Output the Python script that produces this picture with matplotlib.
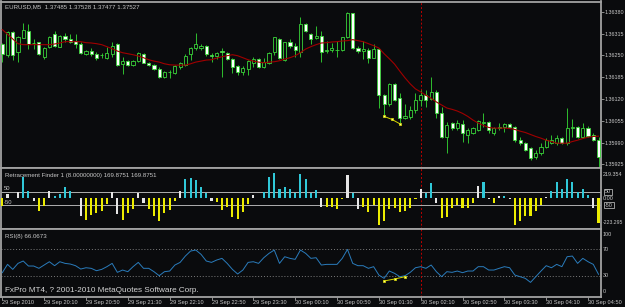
import numpy as np
import matplotlib
matplotlib.use('Agg')
import matplotlib.pyplot as plt

W, H = 625, 307
BG = '#0a0b0d'
FRAME = '#a2a2a2'
TXT = '#c8c8c8'
FONT = 'Liberation Sans'

# EURUSD M5, 29 Sep 19:30 -> 30 Sep 05:00 (one entry per bar)
opens = [1.36285, 1.36252, 1.36321, 1.36261, 1.36303, 1.36324, 1.36288, 1.36291, 1.36246, 1.36276,
         1.36315, 1.36276, 1.36309, 1.36300, 1.36294, 1.36285, 1.36255, 1.36264, 1.36255, 1.36252,
         1.36243, 1.36255, 1.36285, 1.36225, 1.36234, 1.36222, 1.36234, 1.36255, 1.36228, 1.36222,
         1.36210, 1.36186, 1.36201, 1.36198, 1.36216, 1.36222, 1.36255, 1.36273, 1.36273, 1.36279,
         1.36250, 1.36249, 1.36262, 1.36258, 1.36240, 1.36219, 1.36201, 1.36210, 1.36228, 1.36240,
         1.36216, 1.36228, 1.36261, 1.36300, 1.36237, 1.36291, 1.36279, 1.36261, 1.36345, 1.36315,
         1.36303, 1.36309, 1.36264, 1.36267, 1.36266, 1.36267, 1.36306, 1.36375, 1.36273, 1.36264,
         1.36267, 1.36243, 1.36270, 1.36132, 1.36105, 1.36165, 1.36123, 1.36063, 1.36066, 1.36087,
         1.36117, 1.36132, 1.36120, 1.36141, 1.36078, 1.36006, 1.36048, 1.36033, 1.36045, 1.36012,
         1.36018, 1.36027, 1.36048, 1.36051, 1.36018, 1.36033, 1.36036, 1.36045, 1.36036, 1.35997,
         1.35988, 1.35973, 1.35946, 1.35958, 1.35976, 1.35988, 1.35988, 1.36003, 1.35988, 1.36033,
         1.36036, 1.36006, 1.36033, 1.36012, 1.35997]
highs = [1.36288, 1.36324, 1.36324, 1.36309, 1.36348, 1.36345, 1.36300, 1.36291, 1.36276, 1.36309,
         1.36324, 1.36312, 1.36318, 1.36315, 1.36315, 1.36291, 1.36267, 1.36273, 1.36261, 1.36258,
         1.36276, 1.36291, 1.36288, 1.36246, 1.36237, 1.36237, 1.36261, 1.36258, 1.36231, 1.36225,
         1.36214, 1.36204, 1.36207, 1.36222, 1.36231, 1.36255, 1.36276, 1.36318, 1.36285, 1.36282,
         1.36258, 1.36261, 1.36273, 1.36261, 1.36243, 1.36222, 1.36219, 1.36237, 1.36246, 1.36243,
         1.36243, 1.36261, 1.36306, 1.36303, 1.36291, 1.36300, 1.36288, 1.36366, 1.36348, 1.36318,
         1.36339, 1.36324, 1.36294, 1.36288, 1.36294, 1.36306, 1.36378, 1.36375, 1.36279, 1.36294,
         1.36273, 1.36285, 1.36273, 1.36135, 1.36168, 1.36168, 1.36138, 1.36105, 1.36099, 1.36138,
         1.36147, 1.36147, 1.36186, 1.36147, 1.36096, 1.36051, 1.36051, 1.36057, 1.36057, 1.36033,
         1.36036, 1.36057, 1.36078, 1.36054, 1.36036, 1.36048, 1.36048, 1.36048, 1.36039, 1.36006,
         1.35991, 1.35976, 1.35967, 1.35988, 1.36003, 1.36012, 1.36012, 1.36006, 1.36093, 1.36060,
         1.36039, 1.36048, 1.36039, 1.36018, 1.36006]
lows = [1.36231, 1.36246, 1.36237, 1.36231, 1.36303, 1.36270, 1.36270, 1.36252, 1.36240, 1.36273,
        1.36276, 1.36276, 1.36291, 1.36288, 1.36273, 1.36255, 1.36252, 1.36249, 1.36237, 1.36243,
        1.36240, 1.36246, 1.36219, 1.36195, 1.36219, 1.36219, 1.36231, 1.36228, 1.36219, 1.36207,
        1.36183, 1.36183, 1.36183, 1.36195, 1.36210, 1.36219, 1.36237, 1.36267, 1.36267, 1.36249,
        1.36231, 1.36240, 1.36186, 1.36237, 1.36198, 1.36192, 1.36192, 1.36192, 1.36216, 1.36213,
        1.36213, 1.36225, 1.36252, 1.36240, 1.36234, 1.36273, 1.36246, 1.36246, 1.36321, 1.36285,
        1.36300, 1.36231, 1.36258, 1.36261, 1.36246, 1.36264, 1.36303, 1.36270, 1.36258, 1.36240,
        1.36228, 1.36243, 1.36093, 1.36072, 1.36099, 1.36114, 1.36048, 1.36060, 1.36060, 1.36078,
        1.36099, 1.36096, 1.36117, 1.36063, 1.36004, 1.35958, 1.36027, 1.36027, 1.35991, 1.35988,
        1.36015, 1.36024, 1.36036, 1.36018, 1.36012, 1.36027, 1.36021, 1.36033, 1.35991, 1.35982,
        1.35964, 1.35937, 1.35940, 1.35952, 1.35973, 1.35985, 1.35982, 1.35985, 1.35982, 1.36006,
        1.36003, 1.36004, 1.36006, 1.35994, 1.35916]
closes = [1.36255, 1.36321, 1.36252, 1.36306, 1.36327, 1.36285, 1.36286, 1.36255, 1.36273, 1.36306,
          1.36279, 1.36309, 1.36300, 1.36291, 1.36285, 1.36258, 1.36264, 1.36255, 1.36243, 1.36250,
          1.36258, 1.36279, 1.36222, 1.36234, 1.36222, 1.36234, 1.36258, 1.36228, 1.36222, 1.36210,
          1.36186, 1.36201, 1.36199, 1.36219, 1.36228, 1.36249, 1.36273, 1.36285, 1.36279, 1.36255,
          1.36249, 1.36258, 1.36261, 1.36240, 1.36216, 1.36201, 1.36213, 1.36234, 1.36240, 1.36216,
          1.36231, 1.36258, 1.36306, 1.36243, 1.36291, 1.36279, 1.36267, 1.36345, 1.36324, 1.36300,
          1.36309, 1.36261, 1.36267, 1.36273, 1.36267, 1.36306, 1.36375, 1.36273, 1.36264, 1.36270,
          1.36243, 1.36270, 1.36132, 1.36105, 1.36165, 1.36117, 1.36063, 1.36069, 1.36087, 1.36117,
          1.36132, 1.36117, 1.36141, 1.36078, 1.36006, 1.36042, 1.36033, 1.36048, 1.36018, 1.36027,
          1.36033, 1.36054, 1.36050, 1.36027, 1.36033, 1.36036, 1.36045, 1.36036, 1.35997, 1.35988,
          1.35967, 1.35943, 1.35958, 1.35976, 1.35997, 1.35997, 1.36003, 1.35988, 1.36033, 1.36036,
          1.36006, 1.36033, 1.36009, 1.35997, 1.35946]
ma_vals = [1.36327, 1.36313, 1.36299, 1.36285, 1.36282, 1.36282, 1.36282, 1.36282, 1.36282, 1.36282,
           1.36284, 1.36287, 1.36291, 1.36291, 1.36291, 1.36291, 1.36288, 1.36287, 1.36285, 1.36282,
           1.36276, 1.36270, 1.36263, 1.36258, 1.36255, 1.36252, 1.36248, 1.36243, 1.36237, 1.36233,
           1.36230, 1.36225, 1.36222, 1.36221, 1.36221, 1.36221, 1.36225, 1.36230, 1.36233, 1.36236,
           1.36237, 1.36242, 1.36246, 1.36249, 1.36252, 1.36249, 1.36243, 1.36237, 1.36233, 1.36230,
           1.36228, 1.36230, 1.36231, 1.36234, 1.36239, 1.36243, 1.36249, 1.36258, 1.36269, 1.36276,
           1.36282, 1.36287, 1.36288, 1.36290, 1.36291, 1.36293, 1.36294, 1.36297, 1.36294, 1.36291,
           1.36285, 1.36279, 1.36272, 1.36255, 1.36240, 1.36224, 1.36203, 1.36183, 1.36165, 1.36150,
           1.36141, 1.36131, 1.36122, 1.36111, 1.36102, 1.36093, 1.36089, 1.36084, 1.36077, 1.36068,
           1.36057, 1.36048, 1.36041, 1.36035, 1.36033, 1.36033, 1.36033, 1.36032, 1.36029, 1.36024,
           1.36020, 1.36014, 1.36008, 1.36003, 1.35997, 1.35993, 1.35988, 1.35988, 1.35988, 1.35993,
           1.35997, 1.36002, 1.36006, 1.36008, 1.36009]

# Retracement Finder histogram and its colour state (c = cyan, y = yellow, w = white)
rf_vals = [-65, 31, 0, 47, 170, 58, -18, -97, -65, 58,
           21, 31, 86, 58, 5, -144, -170, -131, -118, -97,
           -47, 47, -123, -176, -118, -84, 45, -34, -84, -139,
           -183, -118, -92, -21, 60, 152, 165, 149, 92, 45,
           -18, -26, -92, -66, -152, -165, -110, -47, 26, 5,
           52, 170, 204, 73, 92, 73, 39, 191, 152, 39,
           66, -66, -73, -66, -84, -8, 183, 45, -86, -66,
           -105, -52, -210, -183, -86, -79, -105, -100, -79, -5,
           71, 39, 123, -34, -157, -149, -79, -52, -79, -79,
           -39, 97, 126, -5, -34, 18, 18, -8, -210, -183,
           -139, -144, -100, -52, 13, 58, 126, 71, 157, 131,
           47, 73, 26, -79, -196]
rf_state = list('ywwwccwyyw' 'cccccwyyyy' 'ywwyyywwyy' 'yyyywccccc'
                'wyyyyyyywc' 'cccccccccc' 'cwyyyywcwy' 'yyyyyyyyyy'
                'wccwyyyyyy' 'ywcwywcwyy' 'yyyywccccc' 'cccwy')

rsi_vals = [34.6, 47.2, 39.6, 48.7, 52.3, 44.7, 44.7, 41.2, 46.2, 51.2,
            45.2, 51.2, 48.7, 47.7, 45.2, 40.1, 42.1, 41.2, 37.6, 39.6,
            43.7, 48.7, 35.1, 38.6, 36.1, 43.7, 50.2, 41.2, 41.2, 36.1,
            30.0, 36.1, 37.1, 46.2, 50.2, 59.8, 67.4, 68.9, 62.4, 52.3,
            50.2, 53.8, 56.3, 48.7, 39.6, 32.6, 38.6, 50.2, 51.2, 48.7,
            57.3, 63.9, 68.9, 48.7, 58.8, 56.3, 54.8, 68.9, 63.9, 56.3,
            57.3, 46.2, 47.2, 47.2, 47.2, 56.3, 69.9, 48.7, 45.2, 45.2,
            41.2, 43.7, 31.0, 26.0, 37.1, 33.6, 28.5, 30.0, 35.1, 42.1,
            43.7, 41.2, 46.2, 36.1, 28.5, 36.1, 35.1, 37.1, 34.6, 37.1,
            37.1, 43.7, 43.7, 38.6, 38.6, 41.2, 43.7, 42.1, 31.0, 28.5,
            26.0, 19.9, 28.5, 37.1, 45.2, 42.1, 47.2, 43.7, 58.8, 59.8,
            48.7, 56.3, 51.2, 47.2, 32.1]

# yellow pattern marks (bar position, value)
mark_bars = [73, 74.5, 76]
mark_prices = [1.36068, 1.36059, 1.36046]
rsi_mark_bars = [73, 75, 77]
rsi_mark_vals = [22.0, 25.0, 28.5]
vline_bar = 80

price_ticks = [1.36380, 1.36315, 1.36250, 1.36185, 1.36120, 1.36055, 1.35990, 1.35925]
time_ticks = [0, 8, 16, 24, 32, 40, 48, 56, 64, 72, 80, 88, 96, 104, 112]
time_labels = ['29 Sep 2010', '29 Sep 20:10', '29 Sep 20:50', '29 Sep 21:30', '29 Sep 22:10',
               '29 Sep 22:50', '29 Sep 23:30', '30 Sep 00:10', '30 Sep 00:50', '30 Sep 01:30',
               '30 Sep 02:10', '30 Sep 02:50', '30 Sep 03:30', '30 Sep 04:10', '30 Sep 04:50']

bars = np.arange(len(opens))
o, h, l, c = map(np.array, (opens, highs, lows, closes))

fig = plt.figure(figsize=(W / 100, H / 100), dpi=100, facecolor=BG)


def panel(x0, y0, x1, y1):
    # axes placed by pixel box of the screenshot
    ax = fig.add_axes([x0 / W, 1 - y1 / H, (x1 - x0) / W, (y1 - y0) / H])
    ax.set_facecolor(BG)
    for s in ax.spines.values():
        s.set_color(FRAME)
        s.set_linewidth(1.3)
    ax.set_xlim((x0 - 2.3) / 5.23, (x1 - 2.3) / 5.23)
    ax.tick_params(colors=FRAME, labelcolor=TXT, labelsize=4.2, length=2, width=0.6)
    ax.set_xticks([])
    ax.set_yticks([])
    return ax


def ftext(x, y, s, **kw):
    kw.setdefault('color', TXT)
    kw.setdefault('fontsize', 4.4)
    kw.setdefault('family', FONT)
    fig.text(x / W, 1 - y / H, s, va='center', ha='left', **kw)


# ---- main price panel
ax = panel(1.5, 1.5, 600.5, 167.5)
ax.set_ylim(1.359155, 1.364108)
ax.vlines(bars, l, h, color='#2fbf2f', lw=0.7, zorder=2)
bull = c >= o
body_lo = np.minimum(o, c)
body_h = np.maximum(np.abs(c - o), 0.000004)
ax.bar(bars, body_h, bottom=body_lo, width=0.6,
       color=np.where(bull, BG, '#ffffff'), edgecolor='#3ad43a', linewidth=0.6, zorder=3)
ax.plot(bars, ma_vals, color='#a00000', lw=0.8, zorder=4)
ax.plot(mark_bars, mark_prices, color='#d8d800', lw=0.7, marker='s', ms=2.0,
        mfc='#ffff90', mec='#e0e000', mew=0.5, zorder=5)
ax.axvline(vline_bar, color='#c00000', lw=0.7, ls=(0, (2, 2)), zorder=1)
ax.yaxis.tick_right()
ax.set_yticks(price_ticks)
ax.set_yticklabels(['%.5f' % p for p in price_ticks], family=FONT)
ax.tick_params(axis='y', length=2.0, pad=0.6, labelsize=3.9)
ftext(5, 6.4, 'EURUSD,M5  1.37485 1.37528 1.37477 1.37527')

# ---- Retracement Finder panel
ax2 = panel(1.5, 167.5, 600.5, 229)
ax2.set_ylim(-244, 244.8)
cmap = {'c': '#30c8d8', 'y': '#ecec00', 'w': '#e6e6e6'}
ax2.bar(bars, rf_vals, width=0.4, color=[cmap[k] for k in rf_state], zorder=3)
ax2.axhline(50, color='#b0b0b0', lw=0.7, zorder=2)
ax2.axhline(-50, color='#b0b0b0', lw=0.7, zorder=2)
ax2.axvline(vline_bar, color='#c00000', lw=0.7, ls=(0, (2, 2)), zorder=1)
ftext(5, 175.3, 'Retracement Finder 1 (8.00000000) 169.8751 169.8751')
ftext(4, 189, '50', fontsize=4.2)
ftext(4, 202.8, '-50', fontsize=4.2)
ftext(603, 174, '219.354', fontsize=3.9)
ftext(605, 191.7, '50', fontsize=3.9,
      bbox=dict(boxstyle='square,pad=0.12', fc=BG, ec='#d0d0d0', lw=0.5))
ftext(603, 198.5, '0.00', fontsize=3.9)
ftext(605, 205.3, '-50', fontsize=3.9,
      bbox=dict(boxstyle='square,pad=0.12', fc=BG, ec='#d0d0d0', lw=0.5))
ftext(602.5, 223, '-223.295', fontsize=3.7)

# ---- RSI panel
ax3 = panel(1.5, 229, 600.5, 296.5)
ax3.set_ylim(-1.5, 100.8)
ax3.axhline(70, color='#7c7c7c', lw=0.7, ls=(0, (1, 2)), zorder=1)
ax3.axhline(30, color='#7c7c7c', lw=0.7, ls=(0, (1, 2)), zorder=1)
ax3.axvline(vline_bar, color='#c00000', lw=0.7, ls=(0, (2, 2)), zorder=1)
ax3.plot(bars, rsi_vals, color='#2a7cbc', lw=0.7, zorder=3)
ax3.plot(rsi_mark_bars, rsi_mark_vals, color='#d8d800', lw=0.7, marker='s', ms=2.0,
         mfc='#ffff90', mec='#e0e000', mew=0.5, zorder=4)
ax3.set_xticks(time_ticks)
ax3.set_xticklabels(time_labels, family=FONT, ha='left')
ax3.tick_params(axis='x', length=2.2, pad=0.6, labelsize=4.1, direction='out')
ftext(5, 236.3, 'RSI(8) 66.0673')
ftext(603, 234.3, '100', fontsize=3.9)
ftext(603, 249.3, '70', fontsize=3.9)
ftext(603, 275.7, '30', fontsize=3.9)
ftext(603, 291.7, '0', fontsize=3.9)
ftext(5, 291, 'FxPro MT4, ? 2001-2010 MetaQuotes Software Corp.', fontsize=5.9, color='#d4d4d4')

fig.savefig('out.png', dpi=100, facecolor=BG)
